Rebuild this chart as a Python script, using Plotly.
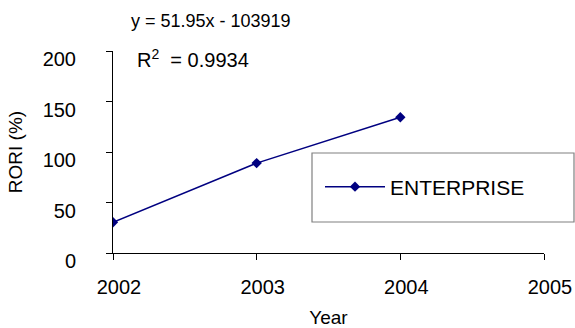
import plotly.graph_objects as go

years = [2002, 2003, 2004]
rori = [30.5, 89.0, 134.4]
series_name = "ENTERPRISE"
x_ticks = [2002, 2003, 2004, 2005]
y_ticks = [0, 50, 100, 150, 200]
equation = "y = 51.95x - 103919"
r2_text = "R<sup>2</sup>  = 0.9934"

FONT = "Liberation Sans, Arial, sans-serif"
NAVY = "#000080"

fig = go.Figure()
fig.add_trace(go.Scatter(
    x=years, y=rori, name=series_name, mode="lines+markers",
    line=dict(color=NAVY, width=1.5),
    marker=dict(symbol="diamond", size=8, color=NAVY),
))

fig.update_layout(
    width=575, height=328,
    margin=dict(l=113, r=31, t=51, b=75),
    paper_bgcolor="white", plot_bgcolor="white",
    font=dict(family=FONT, size=20, color="black"),
    showlegend=True,
    legend=dict(x=(320 - 113) / 431, y=(253 - 187) / 202, xref="paper", yref="paper",
                xanchor="left", yanchor="middle", itemwidth=60,
                bgcolor="rgba(0,0,0,0)", borderwidth=0, font=dict(size=21)),
)

fig.update_xaxes(
    range=[2002, 2005], tickvals=x_ticks, ticktext=[str(v) for v in x_ticks],
    showline=True, linecolor="black", linewidth=1, ticks="outside", ticklen=6,
    tickcolor="black", showgrid=False, zeroline=False, automargin=False,
    ticklabelstandoff=10, ticklabelshift=6,
    title=dict(text="Year", font=dict(size=19), standoff=15),
)
fig.update_yaxes(
    range=[0, 200], tickvals=y_ticks,
    showline=True, linecolor="black", linewidth=1, ticks="outside", ticklen=6,
    tickcolor="black", showgrid=False, zeroline=False, automargin=False,
    ticklabelstandoff=26, ticklabelshift=8,
    title=dict(text="RORI (%)", font=dict(size=19), standoff=14),
)

# legend box
fig.add_shape(type="rect", xref="paper", yref="paper",
              x0=(312 - 113) / 431, x1=(574 - 113) / 431,
              y0=(253 - 222) / 202, y1=(253 - 153) / 202,
              line=dict(color="#808080", width=1.2), fillcolor="rgba(0,0,0,0)")

fig.add_annotation(text=equation, xref="paper", yref="paper",
                   x=(129 - 113) / 431, y=(253 - 21) / 202, xanchor="left", yanchor="middle",
                   showarrow=False, font=dict(size=18))
fig.add_annotation(text=r2_text, xref="paper", yref="paper",
                   x=(135 - 113) / 431, y=(253 - 58) / 202, xanchor="left", yanchor="middle",
                   showarrow=False, font=dict(size=20))

fig.write_html("out.html", config={"displayModeBar": False},
               post_script="document.body.style.margin='0';document.body.style.padding='0';")
